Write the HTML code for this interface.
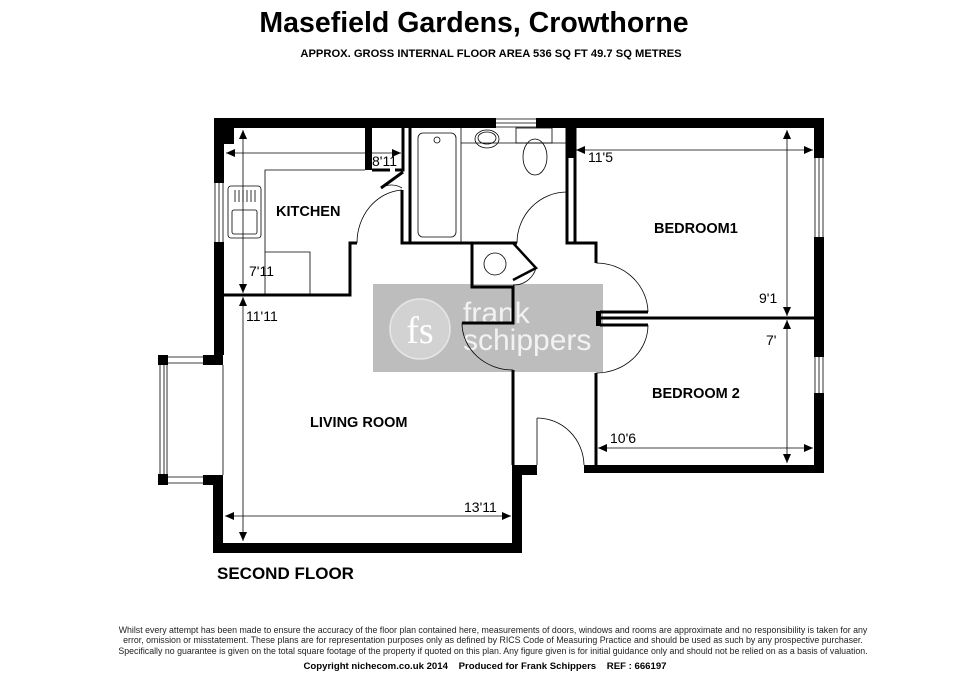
<!DOCTYPE html>
<html><head><meta charset="utf-8"><style>
html,body{margin:0;padding:0;background:#fff;}
svg{display:block;font-family:"Liberation Sans",Arial,sans-serif;}
</style></head><body>
<svg width="980" height="673" viewBox="0 0 980 673" xmlns="http://www.w3.org/2000/svg">
<defs>
<marker id="a" markerWidth="10" markerHeight="10" refX="9" refY="5" orient="auto-start-reverse" markerUnits="userSpaceOnUse"><path d="M0,1 L9,5 L0,9 Z" fill="#000"/></marker>
</defs>
<rect width="980" height="673" fill="#fff"/>
<text x="474" y="32" font-size="28.5" font-weight="bold" text-anchor="middle">Masefield Gardens, Crowthorne</text>
<text x="491" y="57" font-size="11.2" font-weight="bold" text-anchor="middle">APPROX. GROSS INTERNAL FLOOR AREA 536 SQ FT 49.7 SQ METRES</text>

<!-- watermark -->
<rect x="373" y="284" width="230" height="88" fill="#bdbdbd"/>
<circle cx="420" cy="329" r="30" fill="#d2d2d2" stroke="#e6e6e6" stroke-width="1.5"/>
<text x="420" y="343" font-size="38" fill="#fff" text-anchor="middle" font-family="'Liberation Serif',serif">fs</text>
<text x="463" y="323" font-size="30" fill="#f2f2f2">frank</text>
<text x="463" y="350" font-size="30" fill="#f2f2f2">schippers</text>

<g fill="#000">
<rect x="214" y="118" width="282" height="10"/>
<rect x="536" y="118" width="288" height="10"/>
<rect x="814" y="118" width="10" height="40"/>
<rect x="814" y="237" width="10" height="120"/>
<rect x="814" y="393" width="10" height="79"/>
<rect x="584" y="465" width="240" height="8"/>
<rect x="214" y="118" width="10" height="65"/>
<rect x="214" y="242" width="10" height="113"/>
<rect x="214" y="128" width="20" height="16"/>
<rect x="203" y="355" width="20" height="10"/>
<rect x="158" y="355" width="10" height="10"/>
<rect x="158" y="474" width="10" height="11"/>
<rect x="203" y="475" width="20" height="10"/>
<rect x="213" y="475" width="10" height="78"/>
<rect x="213" y="543" width="309" height="10"/>
<rect x="512" y="465" width="10" height="88"/>
<rect x="512" y="465" width="25" height="10"/>
<rect x="365" y="128" width="7" height="42"/>
<rect x="567" y="128" width="8" height="30"/>
<rect x="596" y="311" width="5" height="15"/>
</g>
<g fill="none" stroke="#000">
<path d="M496,119 H536 M496,123 H536 M496,127 H536" stroke-width="0.8"/>
<path d="M815,158 V237 M819,158 V237 M823,158 V237" stroke-width="0.8"/>
<path d="M815,357 V393 M819,357 V393 M823,357 V393" stroke-width="0.8"/>
<path d="M215,183 V242 M219,183 V242 M223,183 V242" stroke-width="0.8"/>
<path d="M160,365 V474 M164,365 V474 M167,365 V474" stroke-width="0.8"/>
<path d="M168,357 H203 M168,363 H203 M168,477 H203 M168,483 H203" stroke-width="0.8"/>
<path d="M223,365 V475" stroke-width="0.8"/>
<g stroke-width="3">
<path d="M224,295 H350 V243 H357"/>
<path d="M372,170 H390"/>
<path d="M402,190 V243 H517"/>
<path d="M410,128 V243"/>
<path d="M403,128 V170 L395,170"/>
<path d="M567,128 V243 H596 V263"/>
<path d="M575,128 V243"/>
<path d="M472,243 V287 H513 V323 H462"/>
<path d="M513,370 V465"/>
<path d="M596,373 V465"/>
<path d="M596,318 H814"/>
<path d="M600,312 H648 M600,325 H648"/>
<path d="M567,192 V243"/>
</g>
<path d="M381,188 L403,172" stroke-width="3"/>
<path d="M513,243 L536,268 L513,280" stroke-width="2.5"/>
<g stroke-width="0.8">
<path d="M402,188 A20,20 0 0 0 381,188"/>
<path d="M402,190 A48,53 0 0 0 357,243"/>
<path d="M567,192 A50,51 0 0 0 517,243"/>
<path d="M596,263 A52,50 0 0 1 648,312"/>
<path d="M596,373 A52,48 0 0 0 648,325"/>
<path d="M462,323 A51,47 0 0 0 513,370"/>
<path d="M537,418 A47,48 0 0 1 584,465"/>
<path d="M537,418 V465"/>
<path d="M536,268 A23,23 0 0 1 513,285"/>
</g>
<g stroke-width="0.8">
<path d="M265,295 V252 H310 V295 M265,252 V170 H365"/>
<rect x="418" y="133" width="38" height="104" rx="5"/>
<circle cx="437" cy="140" r="3"/>
<ellipse cx="487" cy="139" rx="12" ry="9"/>
<ellipse cx="487" cy="138" rx="9" ry="6"/>
<path d="M461,143 H567 M461,128 V243"/>
<rect x="516" y="128" width="36" height="15"/>
<ellipse cx="535" cy="157" rx="12" ry="18"/>
<circle cx="495" cy="264" r="11"/>
<rect x="228" y="186" width="33" height="52" rx="3"/>
<rect x="232" y="210" width="25" height="24" rx="2"/>
<path d="M235,190 V202 M239,190 V202 M243,190 V202 M247,190 V202 M251,190 V202 M255,190 V202"/>
</g>
<g stroke-width="0.8">
<path d="M243,130 V293" marker-start="url(#a)" marker-end="url(#a)"/>
<path d="M226,153 H401" marker-start="url(#a)" marker-end="url(#a)"/>
<path d="M243,297 V541" marker-start="url(#a)" marker-end="url(#a)"/>
<path d="M225,516 H511" marker-start="url(#a)" marker-end="url(#a)"/>
<path d="M576,150 H813" marker-start="url(#a)" marker-end="url(#a)"/>
<path d="M787,130 V316" marker-start="url(#a)" marker-end="url(#a)"/>
<path d="M787,320 V463" marker-start="url(#a)" marker-end="url(#a)"/>
<path d="M598,448 H813" marker-start="url(#a)" marker-end="url(#a)"/>
</g>
</g>

<g font-weight="bold" font-size="14.5">
<text x="276" y="216">KITCHEN</text>
<text x="654" y="233">BEDROOM1</text>
<text x="310" y="427">LIVING ROOM</text>
<text x="652" y="398">BEDROOM 2</text>
</g>
<g font-size="14">
<text x="372" y="166">8'11</text>
<text x="249" y="276">7'11</text>
<text x="246" y="321">11'11</text>
<text x="464" y="512">13'11</text>
<text x="588" y="162">11'5</text>
<text x="759" y="303">9'1</text>
<text x="766" y="345">7'</text>
<text x="610" y="443">10'6</text>
</g>
<text x="217" y="579" font-size="17" font-weight="bold">SECOND FLOOR</text>
<g font-size="8.8" text-anchor="middle" fill="#222">
<text x="493" y="633">Whilst every attempt has been made to ensure the accuracy of the floor plan contained here, measurements of doors, windows and rooms are approximate and no responsibility is taken for any</text>
<text x="493" y="643">error, omission or misstatement. These plans are for representation purposes only as defined by RICS Code of Measuring Practice and should be used as such by any prospective purchaser.</text>
<text x="493" y="654">Specifically no guarantee is given on the total square footage of the property if quoted on this plan. Any figure given is for initial guidance only and should not be relied on as a basis of valuation.</text>
</g>
<text x="485" y="669" font-size="9.6" font-weight="bold" text-anchor="middle" xml:space="preserve" style="white-space:pre">Copyright nichecom.co.uk 2014    Produced for Frank Schippers    REF : 666197</text>
</svg>
</body></html>
